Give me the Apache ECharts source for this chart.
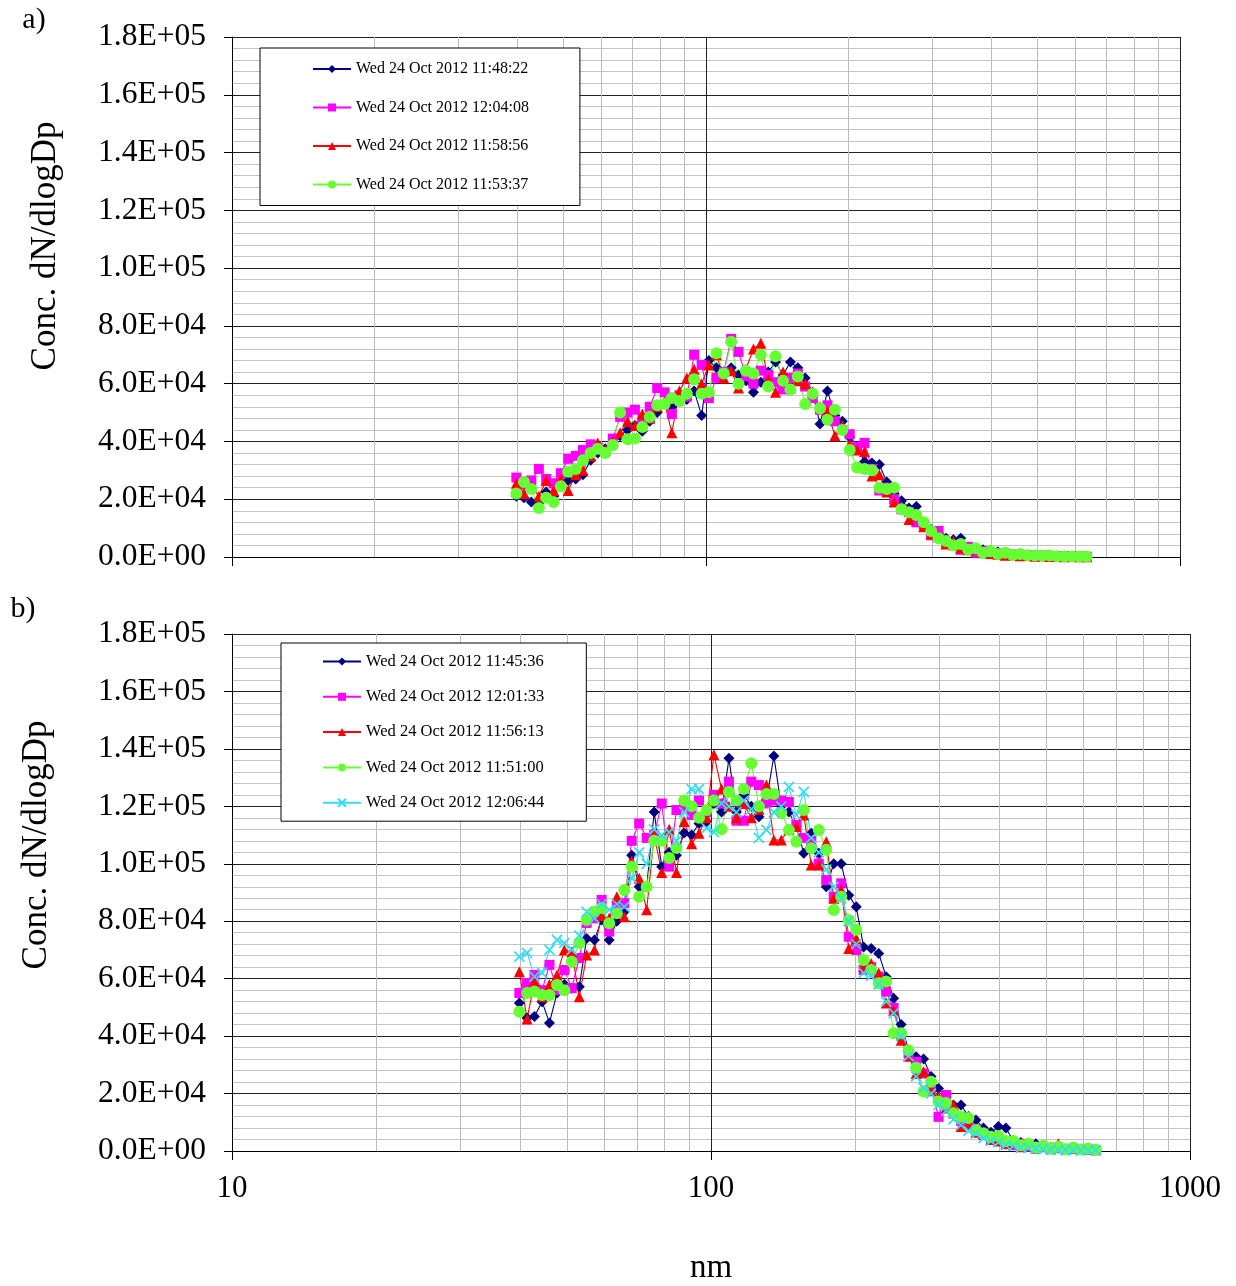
<!DOCTYPE html>
<html><head><meta charset="utf-8">
<script src="https://cdn.jsdelivr.net/npm/echarts@6/dist/echarts.min.js"></script>
<style>html,body{margin:0;padding:0;background:#fff}#c{width:1236px;height:1286px}</style>
</head><body><div id="c"></div><script>
// Particle mobility diameters (nm), 64 channels per decade
const diameters = [39.8,41.3,42.8,44.4,46.0,47.7,49.4,51.2,53.1,55.0,57.1,59.1,61.3,63.6,65.9,68.3,70.8,73.4,76.1,78.9,81.8,84.7,87.9,91.1,94.4,97.9,101.4,105.2,109.0,113.0,117.1,121.4,125.9,130.5,135.3,140.2,145.4,150.7,156.2,161.9,167.9,174.0,180.4,187.0,193.9,201.0,208.3,216.0,223.9,232.1,240.6,249.4,258.5,268.0,277.8,288.0,298.5,309.5,320.8,332.6,344.7,357.4,370.5,384.0,398.1,412.7,427.8,443.5,459.7,476.6,494.0,512.1,530.9,550.3,570.5,591.4,613.1,635.5];

// Panel a) series names
const namesA = ['Wed 24 Oct 2012 11:48:22','Wed 24 Oct 2012 12:04:08','Wed 24 Oct 2012 11:58:56','Wed 24 Oct 2012 11:53:37'];
const a1 = [21000,20500,19000,18700,22500,21000,25500,26500,27000,28500,33500,36000,37500,38500,42000,44000,45500,43500,47000,50000,53500,52000,56000,54500,57500,49000,68000,65500,64000,65500,63000,61000,57000,60500,64000,67500,63000,67500,65500,62000,57000,46000,57500,49000,47000,41500,38000,33000,32500,32000,26000,22000,19500,17000,17500,12000,9500,8000,6500,6000,6500,3500,3000,2500,2200,1800,1400,900,800,500,600,300,400,200,300,100,200,100];
const a2 = [27500,25000,26500,30500,27000,25500,29000,34000,35000,37000,39000,38000,36500,41000,48500,50000,51000,48000,52000,58500,57000,49500,56000,55500,70000,66500,55000,62000,64000,75500,71000,62500,60000,64500,63000,60500,58000,62000,63500,59000,55000,51000,52500,47000,44000,42500,38000,39500,30500,23000,24000,20000,16500,15500,12000,11000,7500,9000,5000,4000,2500,3500,1500,2000,1500,800,1200,900,500,700,400,500,300,200,300,100,200,100];
const a3 = [25500,22000,24500,21000,26500,23000,27000,23000,28500,30000,35000,39500,37000,40000,43000,47000,45500,49500,48000,52000,53500,43000,57500,62000,65000,60000,66500,70000,62000,64500,58500,65000,72000,74000,61500,57000,64000,58500,61000,60000,57000,52000,50500,42000,45500,39000,37000,36500,28000,28500,22500,19000,17500,13000,14500,10500,8000,7000,4500,5500,3000,2500,2800,1500,1200,1000,600,800,400,500,300,400,200,300,100,200,100,100];
const a4 = [22000,26000,23500,17000,20500,19000,24500,29500,30500,33500,36000,37500,36000,38800,50000,40800,41000,45000,48500,52500,53000,55000,54000,56500,61500,56500,57000,70500,63500,74500,60000,64500,63500,70000,59000,69500,61000,58000,62500,53000,56500,51500,47500,51000,44000,37000,31000,30500,30000,24000,23500,24000,16500,15500,14500,12000,9000,6500,5500,4000,4500,2500,3000,1500,2000,1000,1500,700,1000,600,500,400,500,300,200,200,200,100];

// Panel b) series names
const namesB = ['Wed 24 Oct 2012 11:45:36','Wed 24 Oct 2012 12:01:33','Wed 24 Oct 2012 11:56:13','Wed 24 Oct 2012 11:51:00','Wed 24 Oct 2012 12:06:44'];
const b1 = [51500,46300,46800,52000,44600,55000,58000,56700,57200,74000,73500,80400,73500,80000,83300,103000,92000,92000,118000,99000,104000,103000,110700,110000,114000,114600,121000,118000,136700,118000,124000,120000,116400,122000,137500,120000,118000,113000,103700,110600,103700,92000,100000,100000,89000,85000,71000,70500,68800,60700,53200,44000,35200,32800,32000,25900,21800,19000,16000,16000,12000,10800,8000,6500,8500,8000,3500,3000,2000,2500,1500,1200,1000,800,1200,600,500,400];
const b2 = [55000,58500,61300,56000,64800,56000,63000,56700,67200,79400,81000,87400,76400,85000,86300,108000,114000,109000,110000,121000,99000,118700,120000,117000,122000,118000,124000,121000,128600,115000,115000,128600,127400,121000,122000,122000,121500,113500,109000,108000,100000,94300,88500,93200,74600,70000,63000,64000,60700,55500,49800,40000,34000,31000,27000,22000,11900,19500,13000,10500,9000,7500,5500,4000,4500,3000,2000,2500,1500,1000,1500,800,1200,500,800,400,600,300];
const b3 = [62400,46000,59000,53700,58000,61300,70000,69400,53700,68200,70000,82000,81000,88500,81600,101000,95000,84000,110000,97000,112000,97000,114700,107000,110600,116000,138000,126000,120000,116000,121000,116000,119000,127400,108300,108300,112000,113000,117000,99600,99600,107700,88000,91000,70500,74000,64200,65300,62000,51500,49000,38600,33000,27000,27600,21000,19000,15000,16000,8500,9500,6500,6000,4000,3500,2500,3000,1500,2000,1000,1500,800,2500,600,1000,500,700,400];
const b4 = [48500,55000,55500,54300,54300,57800,56000,65900,72400,80400,83300,84600,79300,82800,90900,99000,88500,92000,108000,108000,102000,105500,122000,120000,116000,118700,122000,112000,125000,122000,126000,135000,120000,124300,124300,117700,111800,107700,118700,105400,111800,104900,83900,88500,80400,77000,66500,63000,58400,59000,41000,41000,35000,29000,20700,24100,17200,16700,13100,11900,11500,7300,6200,5000,5200,3500,3500,2000,2500,1200,1800,800,1500,600,1200,500,900,400];
const b5 = [67700,69000,60700,62000,70000,73500,72400,70000,75000,83300,81000,86000,84000,86000,85000,95000,104000,100000,112000,110000,111000,108000,118000,126000,126000,112400,111000,121000,120000,118000,122000,119000,109000,111800,118000,120000,126800,117000,125000,109000,104000,98000,92000,88000,80000,72000,62000,61000,58000,52000,48000,40000,33000,26000,22000,20000,16000,14000,11000,9000,7000,6000,4500,3500,3000,2000,1800,1200,1000,800,600,500,400,300,300,200,200,200];

// Axis ticks
const xTickLabels = ['10','100','1000'];
const xMinorGrid = [20,30,40,50,60,70,80,90,200,300,400,500,600,700,800,900];
const yMax = 180000, yStep = 20000;

const FONT = '"Liberation Serif", "Times New Roman", serif';
const colors = {navy:'#000080', mag:'#FF00FF', red:'#FF0000', green:'#66FF33', cyan:'#33DDF0'};
const crossPath = 'path://M0,0L10,10M10,0L0,10';

function fmtE(v){
  if (v === 0) return '0.0E+00';
  const e = Math.floor(Math.log10(v) + 1e-9);
  const m = v / Math.pow(10, e);
  return m.toFixed(1) + 'E+' + String(e).padStart(2, '0');
}
function mk(name, vals, idx, color, symbol, size){
  const isPath = symbol.indexOf('path://') === 0;
  return {
    name, type:'line', xAxisIndex:idx, yAxisIndex:idx,
    data: diameters.map((d,i)=>[d, vals[i]]),
    symbol, symbolSize:size, showSymbol:true, z:3,
    lineStyle:{color, width:1.1},
    itemStyle:{color, borderColor:color, borderWidth: isPath ? 1.7 : 0},
    emphasis:{disabled:true}, animation:false
  };
}
function minorSeries(idx){
  return {
    type:'line', xAxisIndex:idx, yAxisIndex:idx, data:[], silent:true, z:1,
    markLine:{silent:true, z:1, symbol:['none','none'], label:{show:false}, animation:false,
      lineStyle:{color:'#bcbcbc', width:1, type:'solid'}, emphasis:{disabled:true},
      data: xMinorGrid.map(v=>({xAxis:v}))}
  };
}
function xAx(idx, showLabels){
  const o = {
    type:'log', logBase:10, min:10, max:1000, gridIndex:idx,
    axisLine:{show:true, onZero:false, lineStyle:{color:'#000', width:1}},
    axisTick:{show:true, length:9, lineStyle:{color:'#000'}},
    splitLine:{show:true, lineStyle:{color:'#222', width:1}},
    axisLabel:{show:showLabels, margin:22, fontFamily:FONT, fontSize:31, color:'#000',
      formatter: v => { const s = String(Math.round(v)); return xTickLabels.indexOf(s) >= 0 ? s : ''; }}
  };
  if (showLabels){
    o.name = 'nm'; o.nameLocation = 'middle'; o.nameGap = 101;
    o.nameTextStyle = {fontFamily:FONT, fontSize:33, color:'#000'};
  }
  return o;
}
function yAx(idx){
  return {
    type:'value', min:0, max:yMax, interval:yStep, gridIndex:idx,
    axisLine:{show:true, lineStyle:{color:'#000', width:1}},
    axisTick:{show:true, length:8, lineStyle:{color:'#000'}},
    minorTick:{show:true, splitNumber:5, length:0},
    minorSplitLine:{show:true, lineStyle:{color:'#c4c4c4', width:1}},
    splitLine:{show:true, lineStyle:{color:'#222', width:1}},
    axisLabel:{margin:26, fontFamily:FONT, fontSize:31.5, color:'#000', formatter: fmtE}
  };
}
const legendBase = {
  orient:'vertical', itemWidth:38, itemHeight:10, borderColor:'#000', borderWidth:1,
  backgroundColor:'#fff', selectedMode:false, z:10
};

const option = {
  animation:false,
  backgroundColor:'#fff',
  grid:[
    {left:232, top:37, width:948, height:520, containLabel:false},
    {left:232, top:634, width:958, height:517, containLabel:false}
  ],
  xAxis:[xAx(0,false), xAx(1,true)],
  yAxis:[yAx(0), yAx(1)],
  legend:[
    Object.assign({}, legendBase, {data:namesA, left:260, top:48, padding:[13,51,13,52], itemGap:22.5,
      textStyle:{fontFamily:FONT, fontSize:16, color:'#000'}}),
    Object.assign({}, legendBase, {data:namesB, left:281, top:643, padding:[10,42,10,41], itemGap:18.3,
      textStyle:{fontFamily:FONT, fontSize:16.5, color:'#000'}})
  ],
  graphic:[
    {type:'text', x:34, y:20, style:{text:'a)', font:'30px ' + FONT, fill:'#000', textAlign:'center', textVerticalAlign:'middle', align:'center', verticalAlign:'middle'}},
    {type:'text', x:23, y:609, style:{text:'b)', font:'30px ' + FONT, fill:'#000', textAlign:'center', textVerticalAlign:'middle', align:'center', verticalAlign:'middle'}},
    {type:'text', x:46, y:246, rotation:Math.PI/2, style:{text:'Conc. dN/dlogDp', font:'35px ' + FONT, fill:'#000', textAlign:'center', textVerticalAlign:'middle', align:'center', verticalAlign:'middle'}},
    {type:'text', x:37, y:845, rotation:Math.PI/2, style:{text:'Conc. dN/dlogDp', font:'35px ' + FONT, fill:'#000', textAlign:'center', textVerticalAlign:'middle', align:'center', verticalAlign:'middle'}}
  ],
  series:[
    minorSeries(0), minorSeries(1),
    mk(namesA[0], a1, 0, colors.navy, 'diamond', 11),
    mk(namesA[1], a2, 0, colors.mag, 'rect', 10),
    mk(namesA[2], a3, 0, colors.red, 'triangle', 11),
    mk(namesA[3], a4, 0, colors.green, 'circle', 12),
    mk(namesB[0], b1, 1, colors.navy, 'diamond', 11),
    mk(namesB[1], b2, 1, colors.mag, 'rect', 10),
    mk(namesB[2], b3, 1, colors.red, 'triangle', 11),
    mk(namesB[3], b4, 1, colors.green, 'circle', 12),
    mk(namesB[4], b5, 1, colors.cyan, crossPath, 10)
  ]
};
const chart = echarts.init(document.getElementById('c'), null, {renderer:'canvas'});
chart.setOption(option);
</script></body></html>
